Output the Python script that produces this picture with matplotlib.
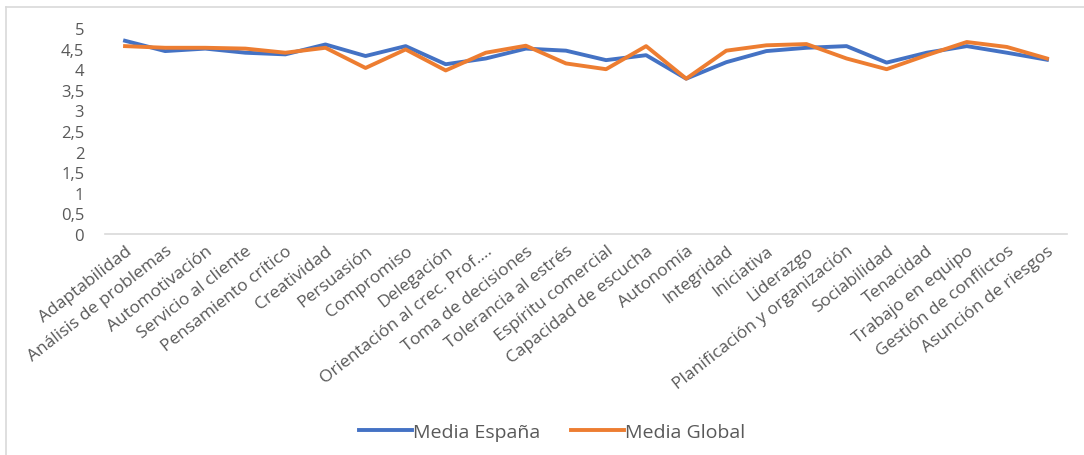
import matplotlib
matplotlib.use("Agg")
import matplotlib.pyplot as plt
from matplotlib.lines import Line2D

# competencias y medias
competencias = ["Adaptabilidad", "Análisis de problemas", "Automotivación",
                "Servicio al cliente", "Pensamiento crítico", "Creatividad",
                "Persuasión", "Compromiso", "Delegación",
                "Orientación al crec. Prof....", "Toma de decisiones",
                "Tolerancia al estrés", "Espíritu comercial",
                "Capacidad de escucha", "Autonomía", "Integridad", "Iniciativa",
                "Liderazgo", "Planificación y organización", "Sociabilidad",
                "Tenacidad", "Trabajo en equipo", "Gestión de conflictos",
                "Asunción de riesgos"]
media_espana = [4.69, 4.44, 4.50, 4.40, 4.36, 4.60, 4.32, 4.56, 4.12, 4.26,
                4.50, 4.45, 4.22, 4.34, 3.77, 4.17, 4.44, 4.52, 4.56, 4.16,
                4.40, 4.56, 4.40, 4.23]
media_global = [4.56, 4.52, 4.52, 4.50, 4.40, 4.52, 4.03, 4.48, 3.97, 4.40,
                4.57, 4.14, 4.00, 4.56, 3.77, 4.45, 4.58, 4.61, 4.26, 4.00,
                4.34, 4.66, 4.54, 4.26]
yticks = [0, 0.5, 1, 1.5, 2, 2.5, 3, 3.5, 4, 4.5, 5]

plt.rcParams['font.family'] = ['Open Sans', 'DejaVu Sans']
gris = "#595959"

fig = plt.figure(figsize=(10.84, 4.56), dpi=100)
ax = fig.add_axes([105/1084, 1-235/456, 962/1084, 206/456])

x = list(range(len(competencias)))
ax.plot(x, media_espana, color="#4472C4", lw=2.8, label="Media España")
ax.plot(x, media_global, color="#ED7D31", lw=2.8, label="Media Global")

ax.set_xlim(-0.5, len(competencias)-0.5)
ax.set_ylim(0, 5)
ax.set_yticks(yticks)
ax.set_yticklabels([("%g" % v).replace(".", ",") for v in yticks])
ax.set_xticks(x)
ax.set_xticklabels(competencias, rotation=38, ha="right",
                   rotation_mode="anchor", fontsize=12.5, color=gris)
ax.tick_params(axis="y", length=0, pad=15, labelsize=12, labelcolor=gris)
ax.tick_params(axis="x", length=0, pad=6)
for s in ["top", "right", "left"]:
    ax.spines[s].set_visible(False)
ax.spines["bottom"].set_color("#d9d9d9")
ax.spines["bottom"].set_linewidth(1.2)

fig.legend(loc="center", bbox_to_anchor=(552/1084, 1-433/456), ncol=2,
           frameon=False, fontsize=14, handlelength=2.7, handletextpad=0.05,
           columnspacing=1.6, labelcolor=gris)

# borde del grafico
fig.add_artist(Line2D([6/1084, 1], [1-8/456, 1-8/456], color="#d9d9d9", lw=1.2))
fig.add_artist(Line2D([6/1084, 6/1084], [0, 1-8/456], color="#d9d9d9", lw=1.2))

fig.savefig("out.png", dpi=100)
